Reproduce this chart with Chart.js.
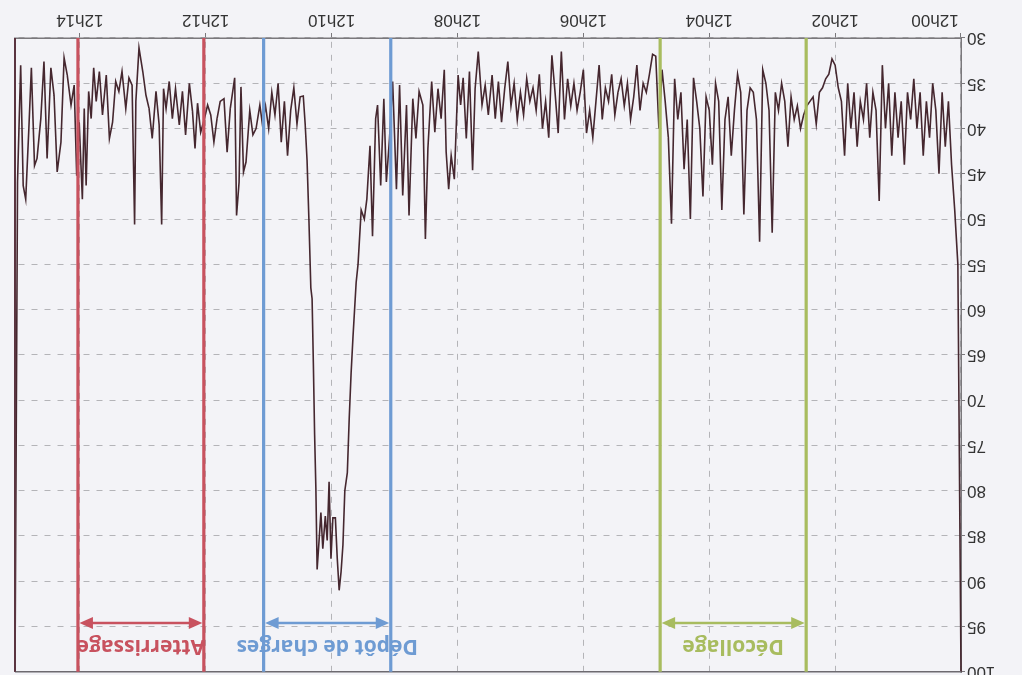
<!DOCTYPE html>
<html>
<head>
<meta charset="utf-8">
<script src="https://cdn.jsdelivr.net/npm/chart.js@4.4.1/dist/chart.umd.min.js"></script>
<style>
  html, body { margin: 0; padding: 0; background: #f3f3f7; }
  /* the scanned original is upside down, so the whole chart is turned 180deg */
  #wrap { position: relative; width: 1022px; height: 675px; overflow: hidden; transform: rotate(180deg); }
  #chart { position: absolute; left: 0; top: -9px; }
</style>
</head>
<body>
<div id="wrap"><canvas id="chart" width="1022" height="684"></canvas></div>
<script>
// minutes after 12h00
const minutes = [
  0, 0.05, 0.1, 0.15, 0.2, 0.25, 0.3, 0.35, 0.4, 0.45,
  0.5, 0.55, 0.6, 0.65, 0.7, 0.75, 0.8, 0.85, 0.9, 0.95,
  1, 1.05, 1.1, 1.15, 1.2, 1.25, 1.3, 1.35, 1.4, 1.45,
  1.5, 1.55, 1.6, 1.65, 1.7, 1.75, 1.8, 1.85, 1.9, 1.95,
  2, 2.05, 2.1, 2.15, 2.2, 2.25, 2.3, 2.35, 2.4, 2.45,
  2.5, 2.55, 2.6, 2.65, 2.7, 2.75, 2.8, 2.85, 2.9, 2.95,
  3, 3.05, 3.1, 3.15, 3.2, 3.25, 3.3, 3.35, 3.4, 3.45,
  3.5, 3.55, 3.6, 3.65, 3.7, 3.75, 3.8, 3.85, 3.9, 3.95,
  4, 4.05, 4.1, 4.15, 4.2, 4.25, 4.3, 4.35, 4.4, 4.45,
  4.5, 4.55, 4.6, 4.65, 4.7, 4.75, 4.8, 4.85, 4.9, 4.95,
  5, 5.05, 5.1, 5.15, 5.2, 5.25, 5.3, 5.35, 5.4, 5.45,
  5.5, 5.55, 5.6, 5.65, 5.7, 5.75, 5.8, 5.85, 5.9, 5.95,
  6, 6.05, 6.1, 6.15, 6.2, 6.25, 6.3, 6.35, 6.4, 6.45,
  6.5, 6.55, 6.6, 6.65, 6.7, 6.75, 6.8, 6.85, 6.9, 6.95,
  7, 7.05, 7.1, 7.15, 7.2,
  7.25, 7.3, 7.35, 7.4, 7.45, 7.51, 7.56, 7.61, 7.67, 7.72,
  7.76, 7.81, 7.86, 7.91, 7.95, 7.99, 8.05, 8.1, 8.14, 8.18,
  8.21, 8.26, 8.31, 8.36, 8.41, 8.47, 8.51, 8.55, 8.61, 8.66,
  8.71, 8.77, 8.81, 8.87, 8.92, 8.97, 9.03, 9.08, 9.13, 9.17,
  9.22, 9.27, 9.3, 9.35, 9.39, 9.44, 9.48,
  9.53, 9.58, 9.61, 9.66, 9.69, 9.72, 9.75, 9.79, 9.82, 9.85,
  9.88, 9.91, 9.94, 9.98, 10.01, 10.04, 10.07, 10.1, 10.14, 10.17,
  10.2, 10.23, 10.25, 10.27, 10.29, 10.31, 10.33, 10.36, 10.39, 10.42,
  10.45, 10.5, 10.55, 10.6, 10.65, 10.7, 10.75, 10.8, 10.85, 10.9,
  10.95, 11, 11.05, 11.1,
  11.14, 11.2, 11.25, 11.3, 11.36, 11.4, 11.44, 11.47, 11.51, 11.54,
  11.61, 11.66, 11.71, 11.77, 11.82, 11.87, 11.92, 11.97, 12.02, 12.08,
  12.13, 12.17, 12.21, 12.26, 12.32, 12.37, 12.42, 12.48, 12.53, 12.58,
  12.63, 12.67, 12.7, 12.74, 12.79, 12.85, 12.9, 12.95, 13, 13.06,
  13.11, 13.13, 13.17, 13.22, 13.27, 13.33, 13.38, 13.43, 13.48, 13.53,
  13.58, 13.64, 13.69, 13.74, 13.78, 13.82, 13.86, 13.9, 13.93, 13.96,
  14.01, 14.05, 14.09, 14.14, 14.2, 14.25, 14.3, 14.36, 14.41, 14.46,
  14.52, 14.57, 14.62, 14.68, 14.72, 14.77, 14.81, 14.86, 14.9, 14.94,
  14.99, 15.03
];

const values = [
  100, 55, 49, 44, 37, 42, 36, 45, 38, 35,
  41, 37, 43, 36, 40, 34.5, 39, 36, 44, 37,
  41, 36, 43, 35, 40, 33, 48, 38, 36, 41,
  35, 39, 37, 42, 36, 40, 35, 43, 37, 35.5,
  33, 32.3, 34, 34.5, 35.5, 36, 39.5, 36.5, 37, 37.5,
  38.5, 40, 37.5, 39, 36.5, 42, 37, 35, 38, 36,
  51.5, 38, 35, 33.5, 52.5, 39, 36, 35.5, 38, 49.5,
  36, 34, 38, 43, 36.5, 39, 49, 37, 35, 44,
  38, 36.5, 47.5, 40, 37, 34.4, 50, 39, 44.5, 36,
  39, 34.5, 50.5, 41, 37, 33.5, 40, 32, 31.8, 34,
  36, 35, 38, 33, 36.5, 39, 35, 37.5, 34.5, 36,
  38.5, 34, 37, 35.5, 39, 33, 37, 41, 38, 40.5,
  33.5, 36, 38, 35, 37.5, 34.5, 39, 31.5, 40.5, 36,
  31.9, 41, 37, 40, 34, 38, 35.5, 37, 34.5, 38.5,
  36, 39, 35, 37.5, 32.6,
  35.6, 39.3, 34.8, 38.9, 34.1, 38.5, 35.2, 37.4, 31.5, 35.6,
  44.6, 33.7, 41.1, 34.4, 37.4, 34.1, 45.6, 43, 46.7, 42.6,
  33.5, 38.9, 35.6, 40.4, 34.8, 42.2, 52.2, 37.4, 35.9, 41.1,
  36.7, 49.6, 37.4, 47.4, 35.2, 46.7, 34.8, 41.1, 45.9, 36.7,
  46.3, 37.4, 38.9, 51.9, 41.9, 47.8, 50,
  49, 55, 57, 63, 67, 72, 78, 80, 86, 89,
  91, 87.5, 83, 83, 87.5, 79, 85.5, 82.8, 86.4, 82.4,
  85.6, 88.7, 79.7, 73.8, 65.9, 58.8, 57.6, 50.2, 43.5, 39.5,
  36.4, 36.5, 39.5, 35.5, 38, 43, 37, 41.5, 35, 38.5,
  36, 40, 37.5, 39.5,
  37.4, 40, 40.7, 38, 43.7, 44.8, 35.4, 45.9, 49.6, 34.4,
  37.8, 42.6, 36.7, 37, 38.9, 41.5, 38.5, 37.4, 38.9, 40.4,
  37.2, 42.2, 38.1, 35, 40.7, 35.9, 39.6, 35.6, 38.9, 34.8,
  37.8, 35.6, 50.6, 39.6, 35.9, 41.1, 37.8, 36.3, 33.7, 31.1,
  37, 50.6, 35.2, 34.4, 37.8, 33.7, 35.9, 34.8, 39.3, 41.1,
  34.1, 38.5, 33.7, 37, 33.3, 38.9, 35.9, 46.3, 37.8, 47.8,
  39.3, 45.2, 35.2, 37.4, 34.1, 32.2, 41.5, 44.8, 36.3, 33.3,
  43.3, 32.6, 38.9, 43.3, 44.1, 33.3, 40, 47.8, 46.3, 33,
  45.9, 100
];

const tickLabels = ['12h00', '12h02', '12h04', '12h06', '12h08', '12h10', '12h12', '12h14'];

// flight phases (minutes after 12h00)
const phaseNames = ['Décollage', 'Dépôt de charges', 'Atterrissage'];
const phaseStart = [2.46, 9.06, 12.03];
const phaseEnd = [4.78, 11.08, 14.03];
const phaseColors = ['#a8bc5f', '#6e9bd3', '#c8525f'];

const phasePlugin = {
  id: 'phases',
  afterDatasetsDraw(chart) {
    const ctx = chart.ctx;
    const a = chart.chartArea;
    const x = chart.scales.x, y = chart.scales.y;
    ctx.save();
    // plot frame
    ctx.strokeStyle = '#6d6a70';
    ctx.lineWidth = 1.5;
    ctx.beginPath();
    ctx.moveTo(a.left, a.top);
    ctx.lineTo(a.right, a.top);
    ctx.stroke();
    ctx.strokeStyle = '#5a3440';
    ctx.lineWidth = 2;
    ctx.beginPath();
    ctx.moveTo(a.right, a.top);
    ctx.lineTo(a.right, a.bottom);
    ctx.stroke();

    const ay = y.getPixelForValue(94.6);
    const ty = y.getPixelForValue(97.1);
    phaseNames.forEach(function (name, i) {
      const c = phaseColors[i];
      const x1 = x.getPixelForValue(phaseStart[i]);
      const x2 = x.getPixelForValue(phaseEnd[i]);
      ctx.strokeStyle = c;
      ctx.fillStyle = c;
      ctx.lineWidth = 3.2;
      ctx.beginPath();
      ctx.moveTo(x1, a.top); ctx.lineTo(x1, a.bottom);
      ctx.moveTo(x2, a.top); ctx.lineTo(x2, a.bottom);
      ctx.stroke();
      // double arrow
      ctx.lineWidth = 2.5;
      ctx.beginPath();
      ctx.moveTo(x1 + 10, ay); ctx.lineTo(x2 - 10, ay);
      ctx.stroke();
      ctx.beginPath();
      ctx.moveTo(x1 + 1.5, ay); ctx.lineTo(x1 + 15, ay - 6); ctx.lineTo(x1 + 15, ay + 6);
      ctx.closePath(); ctx.fill();
      ctx.beginPath();
      ctx.moveTo(x2 - 1.5, ay); ctx.lineTo(x2 - 15, ay - 6); ctx.lineTo(x2 - 15, ay + 6);
      ctx.closePath(); ctx.fill();
      ctx.font = 'bold 21px "Open Sans"';
      ctx.textAlign = 'center';
      ctx.textBaseline = 'middle';
      ctx.fillText(name, (x1 + x2) / 2, ty);
    });
    ctx.restore();
  }
};

const points = minutes.map(function (m, i) { return { x: m, y: values[i] }; });

new Chart(document.getElementById('chart'), {
  type: 'line',
  data: {
    datasets: [{
      data: points,
      borderColor: '#45272f',
      borderWidth: 1.6,
      pointRadius: 0,
      tension: 0,
      clip: false
    }]
  },
  options: {
    responsive: false,
    animation: false,
    layout: { padding: { right: 15 } },
    plugins: { legend: { display: false }, tooltip: { enabled: false } },
    scales: {
      x: {
        type: 'linear',
        min: 0,
        max: 15.03,
        afterFit: function (s) { s.height = 38; },
        border: { color: '#7a787c', width: 1.5, dash: [6, 7] },
        grid: { color: '#b4b4b8', tickLength: 5, tickColor: '#7a787c', tickBorderDash: [] },
        ticks: {
          stepSize: 2,
          includeBounds: false,
          maxRotation: 0,
          padding: 3,
          color: '#333',
          font: { family: 'Liberation Sans', size: 17 },
          callback: function (v) {
            const label = tickLabels[Math.round(v / 2)];
            // first label sits off the axis in the original
            return v === 0 ? '           ' + label : label;
          }
        }
      },
      y: {
        min: 30,
        max: 100,
        afterFit: function (s) { s.width = 61; },
        border: { color: '#7a787c', width: 1.5, dash: [6, 7] },
        grid: { color: '#b4b4b8', tickLength: 4, tickColor: '#7a787c', tickBorderDash: [] },
        ticks: {
          stepSize: 5,
          padding: 2,
          color: '#333',
          font: { family: 'Liberation Sans', size: 17 }
        }
      }
    }
  },
  plugins: [phasePlugin]
});
</script>
</body>
</html>
